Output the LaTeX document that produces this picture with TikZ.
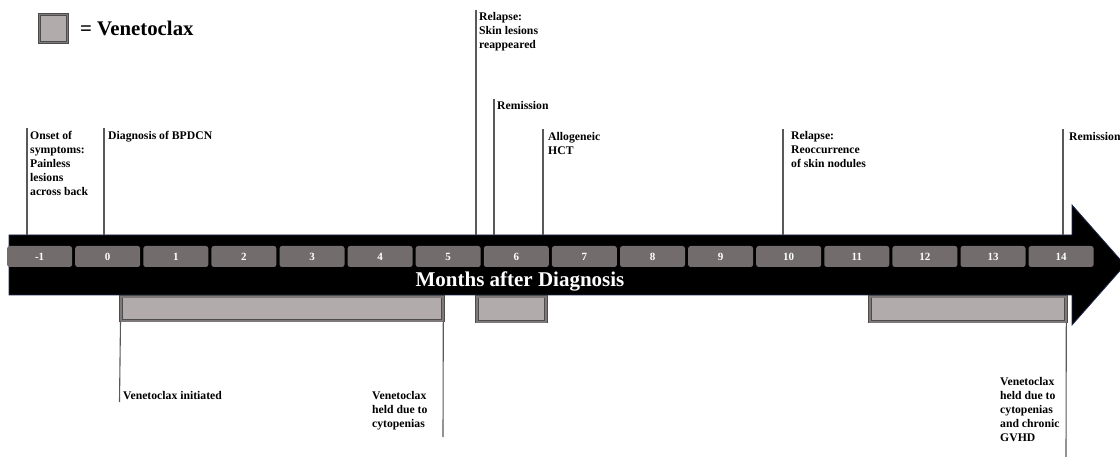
\documentclass[tikz,border=0pt]{standalone}
\usepackage{fontspec}
\setmainfont{Liberation Serif}
\begin{document}
\begin{tikzpicture}[x=1pt,y=-1pt,
  lbl/.style={anchor=north west,inner sep=0pt,align=left,font=\fontsize{11.7}{14}\selectfont\bfseries},
  vline/.style={draw=black!65,line width=1.1pt},
  month/.style={fill=monthgray,rounded corners=2.5pt,minimum width=65pt,minimum height=21pt,inner sep=0pt,text=white,font=\fontsize{11}{11}\selectfont\bfseries},
  venbar/.style={draw=black!70,line width=0.8pt,double=bevelgray,double distance=1.6pt,fill=barfill,inner sep=0pt,anchor=north west}
]
\definecolor{monthgray}{HTML}{726C6C}
\definecolor{barfill}{HTML}{B1ABAB}
\definecolor{bevelgray}{HTML}{7E7878}
\definecolor{navy}{HTML}{1F2A50}
\useasboundingbox (0,0) rectangle (1120,457);

% legend
\node[venbar,minimum width=28pt,minimum height=28pt] (leg) at (39,14) {};
\node[anchor=west,inner sep=0pt,font=\fontsize{20.8}{20.8}\selectfont\bfseries] (legtxt) at (80,28) {= Venetoclax};

% arrow
\draw[fill=black,draw=navy,line width=0.8pt] (9,235) -- (1072,235) -- (1072,205) -- (1125,265) -- (1072,325) -- (1072,295) -- (9,295) -- cycle;
\coordinate (top) at (0,235);

% months
\foreach \k in {-1,0,...,14}{
  \node[month] (m\k) at ({107.7+68.1*\k},256.5) {\k};
}
\node[font=\fontsize{21}{21}\selectfont\bfseries,text=white,inner sep=0pt] (axis) at (520,281) {Months after Diagnosis};

% venetoclax bars
\node[venbar,minimum width=322pt,minimum height=24pt] (b1) at (120.5,296.5) {};
\node[venbar,minimum width=69pt,minimum height=25pt] (b2) at (476.5,296.5) {};
\node[venbar,minimum width=196pt,minimum height=25pt] (b3) at (869.5,296.5) {};

% events above
\node[lbl] (onset) at (30,131) {Onset of\\symptoms:\\Painless\\lesions\\across back};
\coordinate (onsetA) at (27,128);
\draw[vline] (onsetA) -- (onsetA |- top);

\node[lbl] (diag) at (108,131) {Diagnosis of BPDCN};
\coordinate (diagA) at (104,128);
\draw[vline] (diagA) -- (diagA |- top);

\node[lbl] (rel1) at (479,12) {Relapse:\\Skin lesions\\reappeared};
\coordinate (rel1A) at (476,10);
\draw[vline] (rel1A) -- (rel1A |- top);

\node[lbl] (rem1) at (497,101) {Remission};
\coordinate (rem1A) at (494,99);
\draw[vline] (rem1A) -- (rem1A |- top);

\node[lbl] (hct) at (548,132) {Allogeneic\\HCT};
\coordinate (hctA) at (543,129);
\draw[vline] (hctA) -- (hctA |- top);

\node[lbl] (rel2) at (791,131) {Relapse:\\Reoccurrence\\of skin nodules};
\coordinate (rel2A) at (783,129);
\draw[vline] (rel2A) -- (rel2A |- top);

\node[lbl] (rem2) at (1069,132) {Remission};
\coordinate (rem2A) at (1063,129);
\draw[vline] (rem2A) -- (rem2A |- top);

% events below
\node[lbl] (vinit) at (123,391) {Venetoclax initiated};
\coordinate (vinitA) at (119.5,402);
\draw[vline] (b1.south west) -- (vinitA);

\node[lbl] (vheld) at (372,391) {Venetoclax\\held due to\\cytopenias};
\coordinate (vheldA) at (443,437);
\draw[vline] (b1.south east) -- (vheldA);

\node[lbl] (vheld2) at (1000,377) {Venetoclax\\held due to\\cytopenias\\and chronic\\GVHD};
\coordinate (vheld2A) at (1066,457);
\draw[vline] (b3.south east) -- (vheld2A);
\end{tikzpicture}
\end{document}
